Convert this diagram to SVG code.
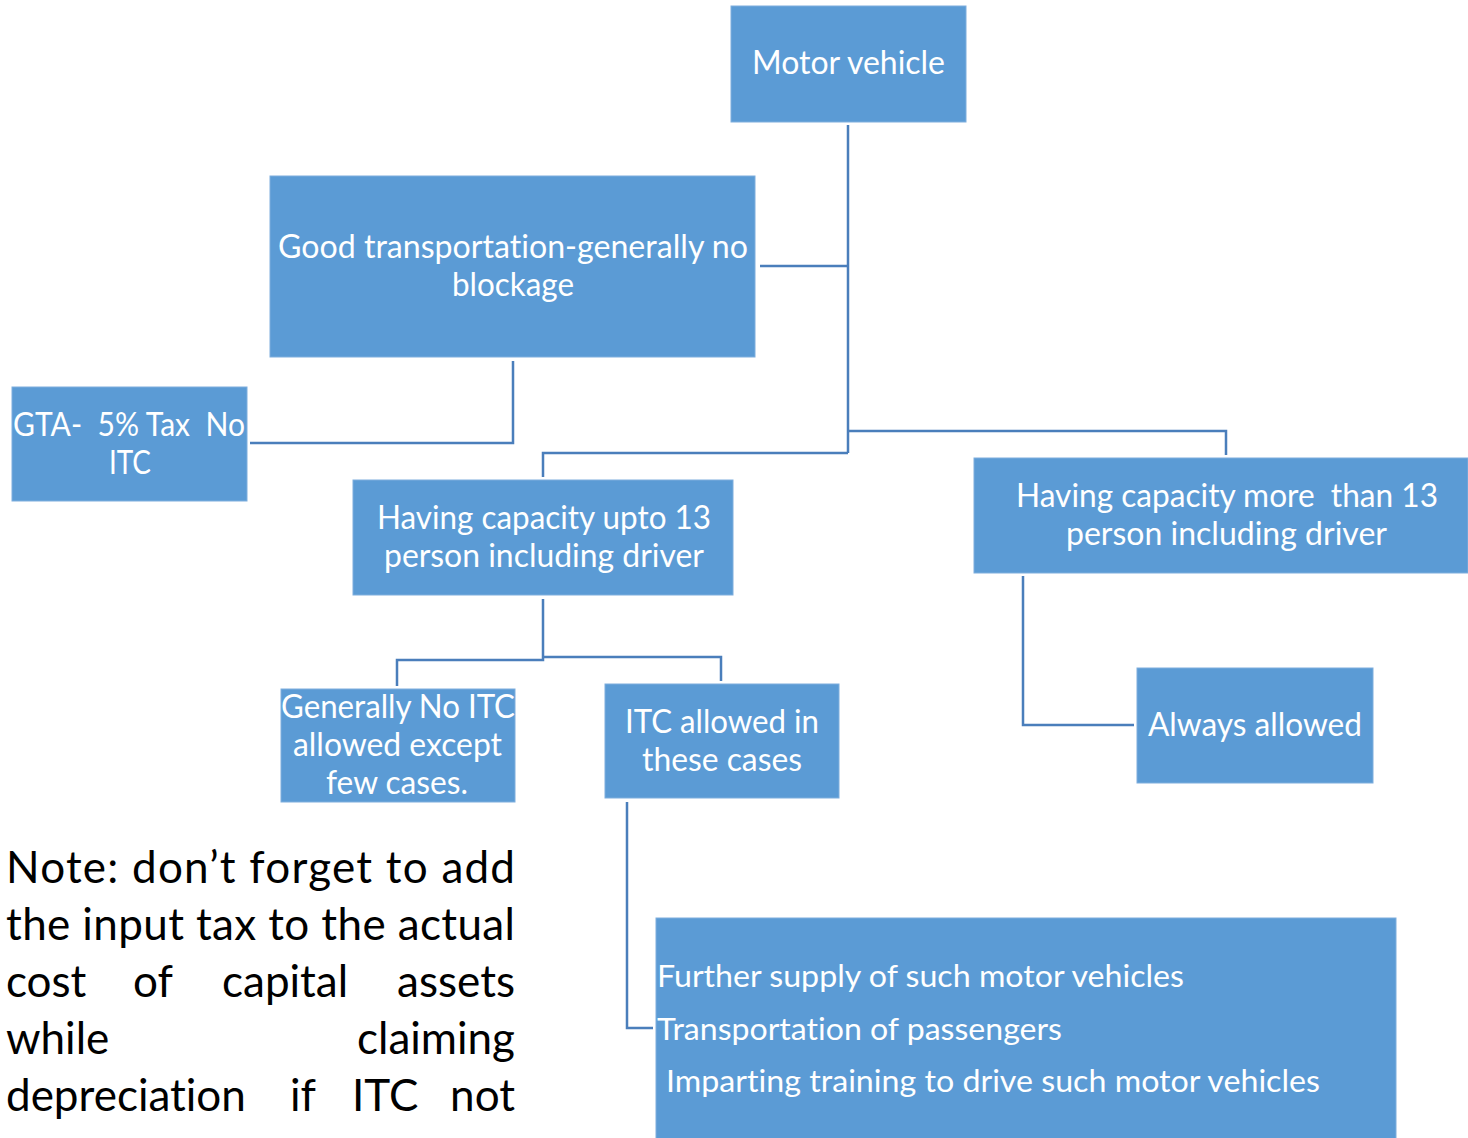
<svg xmlns="http://www.w3.org/2000/svg" width="1468" height="1138" viewBox="0 0 1468 1138">
  <style>
    text { font-variant-ligatures: none; font-feature-settings: "liga" 0, "dlig" 0; }
    .box { fill: #5B9BD5; stroke: #7EAEDD; stroke-width: 1; }
    .lbl { font-family: Lato, "Open Sans", "Liberation Sans", sans-serif; font-size: 32px; fill: #FFFFFF; }
    .lbl-s { font-family: Lato, "Open Sans", "Liberation Sans", sans-serif; font-size: 31px; fill: #FFFFFF; }
    .note { font-family: Lato, "Open Sans", "Liberation Sans", sans-serif; font-size: 44px; fill: #000000; }
    .wire { fill: none; stroke: #4A7EBB; stroke-width: 2.5; }
  </style>
  <rect width="1468" height="1138" fill="#FFFFFF"/>

  <!-- connectors -->
  <g id="connectors">
    <path class="wire" d="M848,125 V453"/>
    <path class="wire" d="M760,266 H848"/>
    <path class="wire" d="M848,431 H1226 V455"/>
    <path class="wire" d="M848,453 H543 V477"/>
    <path class="wire" d="M513,361 V443 H250"/>
    <path class="wire" d="M543,599 V660 H397 V686"/>
    <path class="wire" d="M543,657 H721 V681"/>
    <path class="wire" d="M1023,576 V725 H1134"/>
    <path class="wire" d="M627,802 V1028 H653"/>
  </g>

  <!-- nodes -->
  <g id="motor-vehicle">
    <rect class="box" x="731" y="6" width="235" height="116"/>
    <text class="lbl" x="752" y="74" textLength="193" lengthAdjust="spacingAndGlyphs">Motor vehicle</text>
  </g>

  <g id="goods-transport">
    <rect class="box" x="270" y="176" width="485" height="181"/>
    <text class="lbl" x="278" y="258" textLength="470" lengthAdjust="spacingAndGlyphs">Good transportation-generally no</text>
    <text class="lbl" x="452" y="296" textLength="122" lengthAdjust="spacingAndGlyphs">blockage</text>
  </g>

  <g id="gta">
    <rect class="box" x="12" y="387" width="235" height="114"/>
    <text class="lbl" x="13" y="436" textLength="232" lengthAdjust="spacingAndGlyphs" xml:space="preserve">GTA-  5% Tax  No</text>
    <text class="lbl" x="109" y="474" textLength="42" lengthAdjust="spacingAndGlyphs">ITC</text>
  </g>

  <g id="upto-13">
    <rect class="box" x="353" y="480" width="380" height="115"/>
    <text class="lbl" x="377" y="529" textLength="334" lengthAdjust="spacingAndGlyphs">Having capacity upto 13</text>
    <text class="lbl" x="384" y="567" textLength="320" lengthAdjust="spacingAndGlyphs">person including driver</text>
  </g>

  <g id="more-than-13">
    <rect class="box" x="974" y="458" width="494" height="115"/>
    <text class="lbl" x="1016" y="507" textLength="422" lengthAdjust="spacingAndGlyphs" xml:space="preserve">Having capacity more  than 13</text>
    <text class="lbl" x="1066" y="545" textLength="321" lengthAdjust="spacingAndGlyphs">person including driver</text>
  </g>

  <g id="generally-no-itc">
    <rect class="box" x="281" y="689" width="234" height="113"/>
    <text class="lbl" x="281" y="718" textLength="234" lengthAdjust="spacingAndGlyphs">Generally No ITC</text>
    <text class="lbl" x="293" y="756" textLength="209" lengthAdjust="spacingAndGlyphs">allowed except</text>
    <text class="lbl" x="326" y="794" textLength="142" lengthAdjust="spacingAndGlyphs">few cases.</text>
  </g>

  <g id="itc-allowed">
    <rect class="box" x="605" y="684" width="234" height="114"/>
    <text class="lbl" x="625" y="733" textLength="194" lengthAdjust="spacingAndGlyphs">ITC allowed in</text>
    <text class="lbl" x="642" y="771" textLength="160" lengthAdjust="spacingAndGlyphs">these cases</text>
  </g>

  <g id="always-allowed">
    <rect class="box" x="1137" y="668" width="236" height="115"/>
    <text class="lbl" x="1148" y="736" textLength="214" lengthAdjust="spacingAndGlyphs">Always allowed</text>
  </g>

  <g id="allowed-cases">
    <rect class="box" x="656" y="918" width="740" height="222"/>
    <text class="lbl-s" x="657" y="987" textLength="527" lengthAdjust="spacingAndGlyphs">Further supply of such motor vehicles</text>
    <text class="lbl-s" x="657" y="1040" textLength="405" lengthAdjust="spacingAndGlyphs">Transportation of passengers</text>
    <text class="lbl-s" x="666" y="1092" textLength="654" lengthAdjust="spacingAndGlyphs">Imparting training to drive such motor vehicles</text>
  </g>

  <!-- justified note -->
  <g id="note">
    <text class="note" x="6" y="883" textLength="509" lengthAdjust="spacing">Note: don’t forget to add</text>
    <text class="note" x="6" y="940" textLength="509" lengthAdjust="spacing">the input tax to the actual</text>
    <text class="note" y="997"><tspan x="6">cost</tspan><tspan x="133">of</tspan><tspan x="222">capital</tspan></text>
    <text class="note" x="515" y="997" text-anchor="end">assets</text>
    <text class="note" x="6" y="1054">while</text>
    <text class="note" x="515" y="1054" text-anchor="end">claiming</text>
    <text class="note" y="1111"><tspan x="6">depreciation</tspan><tspan x="290">if</tspan><tspan x="352">ITC</tspan></text>
    <text class="note" x="515" y="1111" text-anchor="end">not</text>
  </g>
</svg>
